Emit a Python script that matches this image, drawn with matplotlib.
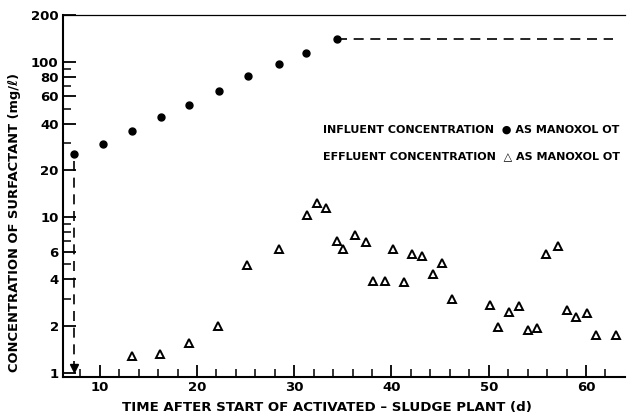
import numpy as np
import matplotlib
matplotlib.use("Agg")
import matplotlib.pyplot as plt
from matplotlib.ticker import FixedLocator, NullFormatter

# influent concentration (filled circles), mg/l
inf_day = [7.4, 10.3, 13.3, 16.3, 19.2, 22.3, 25.2, 28.4, 31.2, 34.4]
inf_conc = [25.4, 29.8, 36, 44, 53, 65, 81, 96, 114, 140]
plateau_end = 62.8

# effluent concentration (open triangles), mg/l
eff_day = [13.3, 16.2, 19.2, 22.2, 25.1, 28.4, 31.3, 32.3, 33.3, 34.4,
           35.0, 36.3, 37.4, 38.1, 39.3, 40.2, 41.3, 42.1, 43.1, 44.3,
           45.2, 46.2, 50.1, 51.0, 52.1, 53.1, 54.0, 55.0, 55.9, 57.1,
           58.0, 59.0, 60.1, 61.0, 63.1]
eff_conc = [1.29, 1.33, 1.55, 2.0, 4.9, 6.25, 10.3, 12.4, 11.5, 7.06,
            6.25, 7.73, 6.95, 3.91, 3.91, 6.25, 3.85, 5.8, 5.62, 4.35,
            5.06, 2.98, 2.72, 1.98, 2.48, 2.68, 1.89, 1.95, 5.8, 6.54,
            2.52, 2.27, 2.41, 1.75, 1.75]

y_major = [1, 2, 4, 6, 10, 20, 40, 60, 80, 100, 200]
y_minor = [3, 5, 7, 8, 9, 30, 50, 70, 90]
x_major = [10, 20, 30, 40, 50, 60]
x_minor = [8, 12, 14, 16, 18, 22, 24, 26, 28, 32, 34, 36, 38, 42, 44, 46, 48,
           52, 54, 56, 58, 62]

plt.rcParams['font.family'] = ['DejaVu Sans']
plt.rcParams['font.weight'] = 'bold'
plt.rcParams['axes.labelweight'] = 'bold'

fig = plt.figure(figsize=(6.28, 4.13), dpi=100)
ax = fig.add_axes([0.100, 0.087, 0.895, 0.877])
ax.set_yscale('log')
ax.set_xlim(6.2, 64)
ax.set_ylim(0.94, 200)

ax.plot(inf_day, inf_conc, 'o', color='black', markersize=5)
ax.plot(eff_day, eff_conc, '^', markerfacecolor='white', markeredgecolor='black',
        markeredgewidth=1.4, markersize=6.3)

# plateau dashed line
ax.plot([inf_day[-1], plateau_end], [inf_conc[-1], inf_conc[-1]], '--',
        color='black', lw=1.2, dashes=(6, 4))
# start arrow
ax.plot([inf_day[0], inf_day[0]], [inf_conc[0] * 0.9, 1.12], '--',
        color='black', lw=1.2, dashes=(6, 4))
ax.plot([inf_day[0]], [1.08], 'v', color='black', markersize=6)

ax.yaxis.set_major_locator(FixedLocator(y_major))
ax.yaxis.set_minor_locator(FixedLocator(y_minor))
ax.set_yticklabels([str(v) for v in y_major])
ax.yaxis.set_minor_formatter(NullFormatter())
ax.xaxis.set_major_locator(FixedLocator(x_major))
ax.xaxis.set_minor_locator(FixedLocator(x_minor))
ax.set_xticklabels([str(v) for v in x_major])

ax.tick_params(which='major', direction='in', length=9, width=1.3,
               labelsize=9.5, pad=3)
ax.tick_params(which='minor', direction='in', length=6, width=1.1)
for s in ['left', 'bottom']:
    ax.spines[s].set_linewidth(1.5)
ax.spines['top'].set_linewidth(0.9)
ax.spines['right'].set_visible(False)

ax.set_xlabel('TIME AFTER START OF ACTIVATED \u2013 SLUDGE PLANT (d)',
              fontsize=9.6)
ax.set_ylabel('CONCENTRATION OF SURFACTANT (mg/\u2113)', fontsize=9.4)
ax.xaxis.set_label_coords(0.470, -0.065)
ax.yaxis.set_label_coords(-0.074, 0.428)

ax.text(0.463, 0.684, 'INFLUENT CONCENTRATION  \u25cf AS MANOXOL OT',
        transform=ax.transAxes, fontsize=8.0, va='center')
ax.text(0.463, 0.609, 'EFFLUENT CONCENTRATION  \u25b3 AS MANOXOL OT',
        transform=ax.transAxes, fontsize=8.0, va='center')

fig.savefig('out.png', dpi=100)
